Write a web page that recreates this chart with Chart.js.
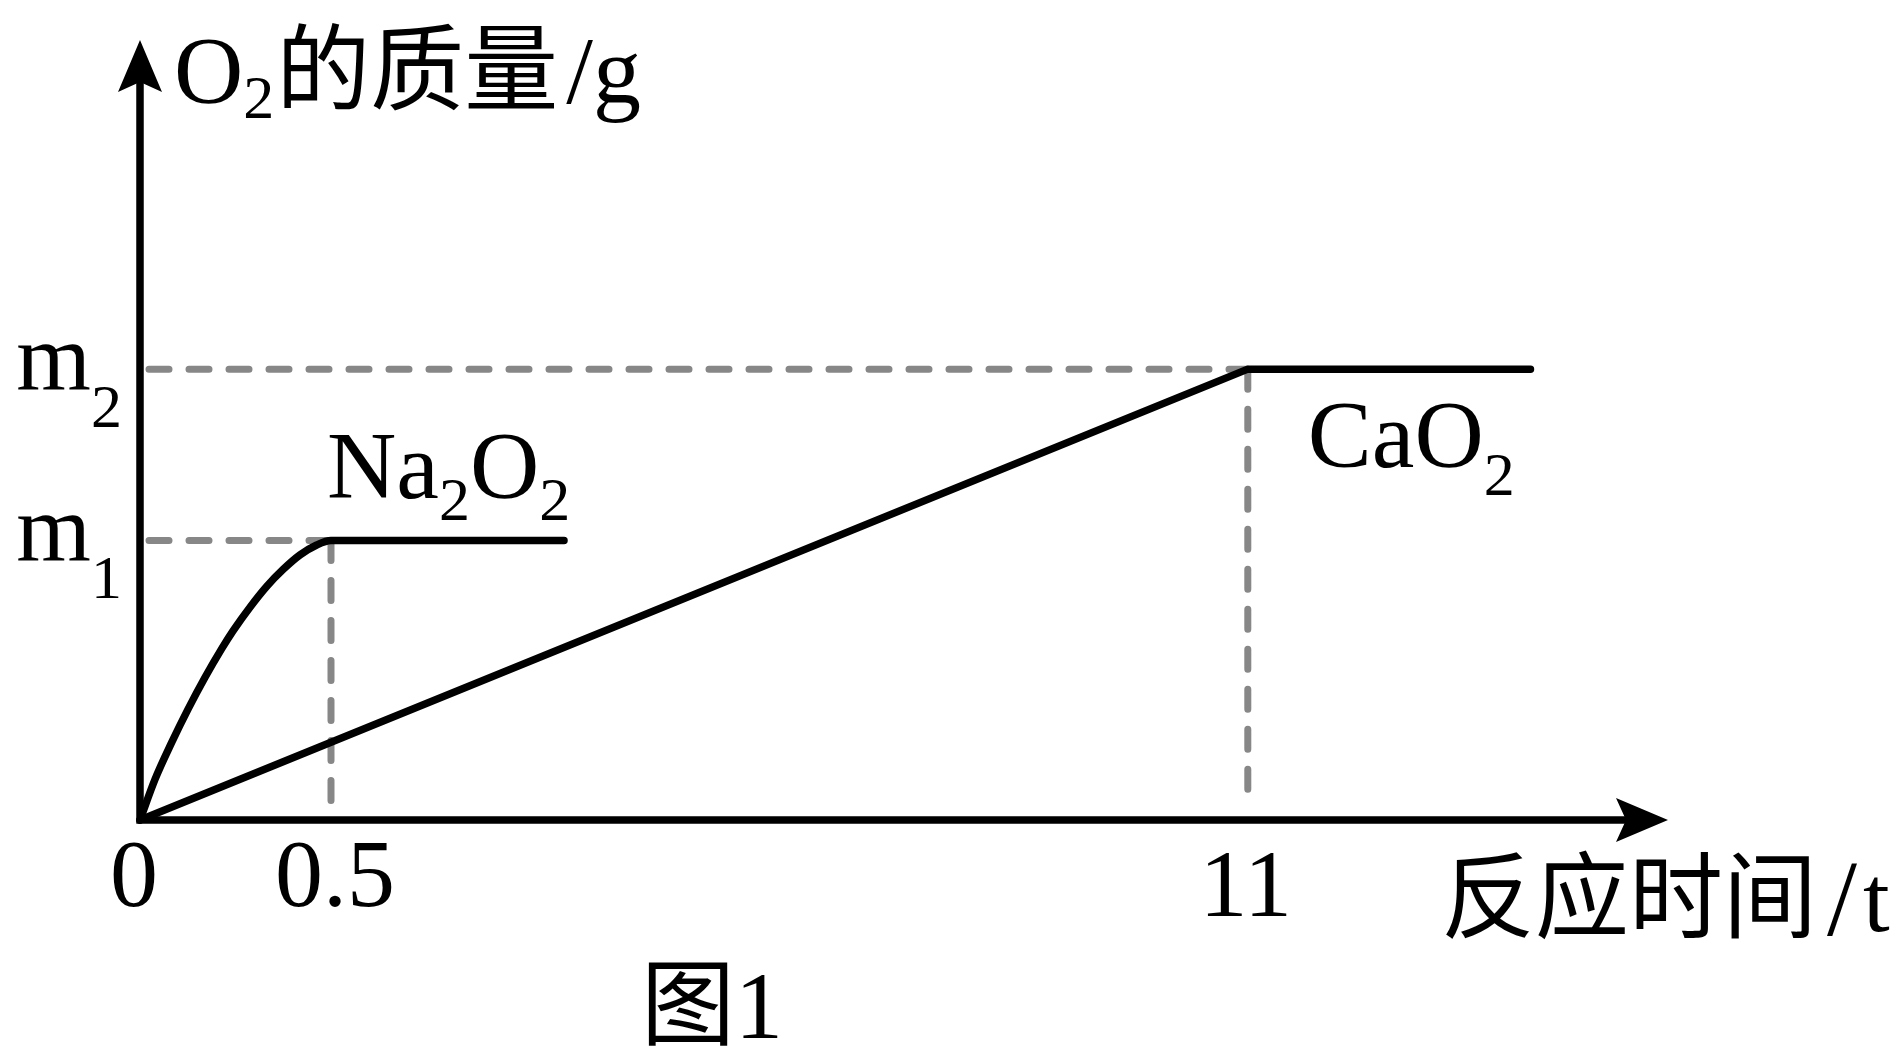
<!DOCTYPE html>
<html>
<head>
<meta charset="utf-8">
<script src="https://cdn.jsdelivr.net/npm/chart.js@4.4.0/dist/chart.umd.min.js"></script>
<style>
  html, body { margin: 0; padding: 0; background: #fff; }
  canvas { display: block; }
</style>
</head>
<body>
<canvas id="o2Chart" width="1904" height="1064"></canvas>
<script>
// x axis is schematic: tick positions and the labels printed under them
const xTickPos = [0, 1, 5.8];
const xTickText = ["0", "0.5", "11"];

// O2 mass levels (m2 taken as 1)
const yTickPos = [0.62, 1];
const yTickSub = ["1", "2"];

// Na2O2 curve
const na2o2X = [0, 0.0785, 0.166, 0.253, 0.34, 0.428, 0.488, 0.576, 0.663, 0.75, 0.838, 0.925, 1, 2.22];
const na2o2Y = [0, 0.09, 0.172, 0.247, 0.316, 0.38, 0.42, 0.472, 0.518, 0.556, 0.588, 0.61, 0.62, 0.62];

// CaO2 line
const cao2X = [0, 5.8, 7.28];
const cao2Y = [0, 1, 1];

const LATIN = '96px "Liberation Serif", "Times New Roman", serif';
const SUB = '62px "Liberation Serif", "Times New Roman", serif';
const SLASH = '108px "Liberation Serif", "Times New Roman", serif';
const CJK = '94px "Noto Sans CJK SC", sans-serif';

function toPoints(xs, ys) {
  return xs.map((v, i) => ({ x: v, y: ys[i] }));
}

function partsWidth(ctx, parts) {
  let w = 0;
  parts.forEach(([txt, font, dy, dx]) => {
    ctx.font = font;
    w += ctx.measureText(txt).width + (dx || 0);
  });
  return w;
}

// parts: [text, font, baseline shift, gap before]
function drawParts(ctx, parts, x, y, align) {
  let cx = x;
  if (align === "center") cx -= partsWidth(ctx, parts) / 2;
  if (align === "right") cx -= partsWidth(ctx, parts);
  ctx.textAlign = "left";
  ctx.textBaseline = "alphabetic";
  parts.forEach(([txt, font, dy, dx]) => {
    ctx.font = font;
    cx += dx || 0;
    ctx.fillText(txt, cx, y + (dy || 0));
    cx += ctx.measureText(txt).width;
  });
}

// grey dashed guides from the axes to the break points
const guidePlugin = {
  id: "guides",
  beforeDatasetsDraw(chart) {
    const { ctx, scales: { x, y } } = chart;
    const x0 = x.getPixelForValue(0);
    const y0 = y.getPixelForValue(0);
    ctx.save();
    ctx.strokeStyle = "#878787";
    ctx.lineWidth = 7;
    ctx.lineCap = "round";
    ctx.setLineDash([20, 20]);
    yTickPos.forEach((v, i) => {
      const px = x.getPixelForValue(xTickPos[i + 1]);
      const py = y.getPixelForValue(v);
      ctx.beginPath();
      ctx.moveTo(x0 + 9, py);
      ctx.lineTo(px, py);
      ctx.stroke();
      ctx.beginPath();
      ctx.moveTo(px, py);
      ctx.lineTo(px, y0 - 12);
      ctx.stroke();
    });
    ctx.restore();
  },
};

// axes with arrow heads and all the text
const axesPlugin = {
  id: "axes",
  afterDatasetsDraw(chart) {
    const { ctx, scales: { x, y } } = chart;
    const x0 = x.getPixelForValue(0);
    const y0 = y.getPixelForValue(0);
    const xEnd = x.getPixelForValue(x.max);
    const yEnd = y.getPixelForValue(y.max);

    ctx.save();
    ctx.strokeStyle = "#000";
    ctx.fillStyle = "#000";
    ctx.lineWidth = 7.5;
    ctx.beginPath();
    ctx.moveTo(x0, y0 + 3.5);
    ctx.lineTo(x0, yEnd + 40);
    ctx.moveTo(x0 - 3.5, y0);
    ctx.lineTo(xEnd - 40, y0);
    ctx.stroke();

    ctx.beginPath();
    ctx.moveTo(x0, yEnd);
    ctx.lineTo(x0 - 22, yEnd + 52);
    ctx.lineTo(x0, yEnd + 42);
    ctx.lineTo(x0 + 22, yEnd + 52);
    ctx.closePath();
    ctx.fill();

    ctx.beginPath();
    ctx.moveTo(xEnd, y0);
    ctx.lineTo(xEnd - 52, y0 - 22);
    ctx.lineTo(xEnd - 42, y0);
    ctx.lineTo(xEnd - 52, y0 + 22);
    ctx.closePath();
    ctx.fill();

    // y title
    drawParts(ctx, [["O", LATIN], ["2", SUB, 15], ["的质量", CJK, 0, 2], ["/g", LATIN, 0, 8]], x0 + 34, yEnd + 63);

    // m1, m2
    yTickPos.forEach((v, i) => {
      const py = y.getPixelForValue(v);
      drawParts(ctx, [["m", LATIN], [yTickSub[i], SUB, 38]], x0 - 18, py + 20, "right");
    });

    // x tick labels
    xTickPos.forEach((v, i) => {
      const px = x.getPixelForValue(v);
      drawParts(ctx, [[xTickText[i], LATIN]], px + (i === 0 ? -6 : i === 1 ? 4 : -2), y0 + 86 + (i === 2 ? 10 : 0), "center");
    });

    // series names
    const naX = x.getPixelForValue(na2o2X[na2o2X.length - 2]);
    const naY = y.getPixelForValue(na2o2Y[na2o2Y.length - 1]);
    drawParts(ctx, [["Na", LATIN], ["2", SUB, 22], ["O", LATIN], ["2", SUB, 22]], naX - 4, naY - 42);

    const caX = x.getPixelForValue(cao2X[1]);
    const caY = y.getPixelForValue(cao2Y[1]);
    drawParts(ctx, [["CaO", LATIN], ["2", SUB, 28]], caX + 60, caY + 98);

    // x title and figure caption
    drawParts(ctx, [["反应时间", CJK], ["/", SLASH, 4, 10], ["t", LATIN, 0, 6]], 1441, y0 + 111);
    drawParts(ctx, [["图", CJK], ["1", LATIN]], 641, y0 + 218);
    ctx.restore();
  },
};

document.addEventListener("DOMContentLoaded", function () {
  const ctx = document.getElementById("o2Chart").getContext("2d");

  new Chart(ctx, {
    type: "line",
    data: {
      datasets: [
        {
          label: "Na2O2",
          data: toPoints(na2o2X, na2o2Y),
          borderColor: "#000",
          borderWidth: 7.5,
          cubicInterpolationMode: "monotone",
          borderCapStyle: "round",
          borderJoinStyle: "round",
          clip: false,
        },
        {
          label: "CaO2",
          data: toPoints(cao2X, cao2Y),
          borderColor: "#000",
          borderWidth: 7.5,
          tension: 0,
          borderCapStyle: "round",
          borderJoinStyle: "round",
          clip: false,
        },
      ],
    },
    options: {
      responsive: false,
      animation: false,
      devicePixelRatio: 1,
      layout: {
        padding: { left: 140, right: 236, top: 40, bottom: 244 },
      },
      elements: {
        point: { radius: 0, hoverRadius: 0 },
      },
      scales: {
        x: { type: "linear", min: 0, max: 8, display: false },
        y: { type: "linear", min: 0, max: 1.73, display: false },
      },
      plugins: {
        legend: { display: false },
        tooltip: { enabled: false },
      },
    },
    plugins: [guidePlugin, axesPlugin],
  });
});
</script>
</body>
</html>
